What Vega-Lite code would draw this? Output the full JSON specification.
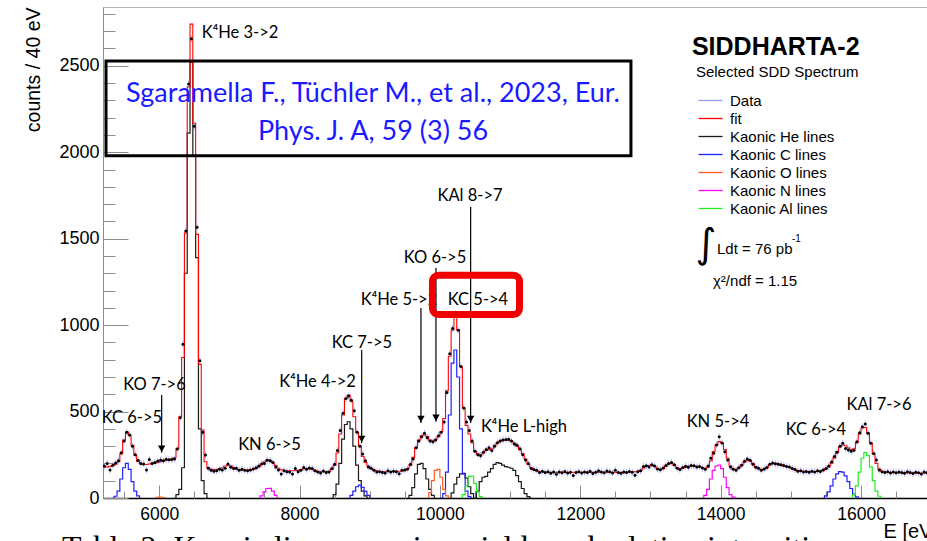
{
  "$schema": "https://vega.github.io/schema/vega-lite/v6.json",
  "width": 824,
  "height": 491,
  "autosize": {"type": "none"},
  "padding": {"left": 103, "top": 7, "right": 0, "bottom": 43},
  "background": "#ffffff",
  "config": {
    "view": {"stroke": "#b4b4b4", "strokeWidth": 1},
    "axis": {"labelFont": "Liberation Sans", "titleFont": "Liberation Sans", "labelColor": "#000000", "titleColor": "#000000", "titleFontWeight": "normal", "grid": false, "zindex": 1}
  },
  "resolve": {"axis": {"x": "independent", "y": "independent"}},
  "datasets": {
    "spectrum": [
      {"e":5220,"f":178,"d":185},{"e":5260,"f":180,"d":200},{"e":5300,"f":183,"d":162},{"e":5340,"f":188,"d":190},
      {"e":5380,"f":195,"d":202},{"e":5420,"f":210,"d":216},{"e":5460,"f":255,"d":262},{"e":5500,"f":335,"d":330},
      {"e":5540,"f":382,"d":380},{"e":5580,"f":362,"d":365},{"e":5620,"f":305,"d":300},{"e":5660,"f":248,"d":250},
      {"e":5700,"f":212,"d":218},{"e":5740,"f":198,"d":200},{"e":5780,"f":194,"d":196},{"e":5820,"f":194,"d":162},
      {"e":5860,"f":197,"d":222},{"e":5900,"f":200,"d":200},{"e":5940,"f":203,"d":206},{"e":5980,"f":206,"d":214},
      {"e":6020,"f":210,"d":220},{"e":6060,"f":214,"d":216},{"e":6100,"f":218,"d":224},{"e":6140,"f":222,"d":221},
      {"e":6180,"f":226,"d":222},{"e":6220,"f":233,"d":225},{"e":6260,"f":287,"d":283},{"e":6300,"f":470,"d":464},
      {"e":6340,"f":813,"d":890},{"e":6380,"f":1532,"d":1544},{"e":6420,"f":2378,"d":2394},{"e":6460,"f":2741,"d":2656},
      {"e":6500,"f":2167,"d":2150},{"e":6540,"f":1525,"d":1566},{"e":6580,"f":773,"d":794},{"e":6620,"f":393,"d":380},
      {"e":6660,"f":210,"d":249},{"e":6700,"f":175,"d":172},{"e":6740,"f":166,"d":160},{"e":6780,"f":164,"d":155},
      {"e":6820,"f":165,"d":158},{"e":6860,"f":168,"d":166},{"e":6900,"f":175,"d":162},{"e":6940,"f":185,"d":172},
      {"e":6980,"f":191,"d":197},{"e":7020,"f":186,"d":178},{"e":7060,"f":176,"d":170},{"e":7100,"f":168,"d":172},
      {"e":7140,"f":164,"d":160},{"e":7180,"f":162,"d":166},{"e":7220,"f":162,"d":160},{"e":7260,"f":162,"d":158},
      {"e":7300,"f":163,"d":162},{"e":7340,"f":165,"d":168},{"e":7380,"f":170,"d":175},{"e":7420,"f":180,"d":185},
      {"e":7460,"f":195,"d":197},{"e":7500,"f":210,"d":200},{"e":7540,"f":220,"d":218},{"e":7580,"f":218,"d":216},
      {"e":7620,"f":205,"d":205},{"e":7660,"f":188,"d":180},{"e":7700,"f":172,"d":162},{"e":7740,"f":163,"d":139},
      {"e":7780,"f":160,"d":158},{"e":7820,"f":158,"d":152},{"e":7860,"f":158,"d":150},{"e":7900,"f":158,"d":139},
      {"e":7940,"f":159,"d":170},{"e":7980,"f":160,"d":152},{"e":8020,"f":164,"d":160},{"e":8060,"f":168,"d":176},
      {"e":8100,"f":171,"d":166},{"e":8140,"f":170,"d":174},{"e":8180,"f":166,"d":170},{"e":8220,"f":160,"d":158},
      {"e":8260,"f":155,"d":150},{"e":8300,"f":153,"d":145},{"e":8340,"f":152,"d":156},{"e":8380,"f":152,"d":148},
      {"e":8420,"f":155,"d":150},{"e":8460,"f":165,"d":170},{"e":8500,"f":190,"d":195},{"e":8540,"f":260,"d":275},
      {"e":8580,"f":370,"d":390},{"e":8620,"f":480,"d":490},{"e":8660,"f":575,"d":575},{"e":8700,"f":596,"d":590},
      {"e":8740,"f":560,"d":565},{"e":8780,"f":470,"d":505},{"e":8820,"f":380,"d":380},{"e":8860,"f":300,"d":300},
      {"e":8900,"f":240,"d":255},{"e":8940,"f":205,"d":215},{"e":8980,"f":185,"d":180},{"e":9020,"f":170,"d":172},
      {"e":9060,"f":162,"d":160},{"e":9100,"f":157,"d":150},{"e":9140,"f":155,"d":152},{"e":9180,"f":153,"d":148},
      {"e":9220,"f":152,"d":145},{"e":9260,"f":152,"d":158},{"e":9300,"f":152,"d":150},{"e":9340,"f":153,"d":155},
      {"e":9380,"f":154,"d":152},{"e":9420,"f":155,"d":140},{"e":9460,"f":157,"d":160},{"e":9500,"f":160,"d":162},
      {"e":9540,"f":170,"d":168},{"e":9580,"f":190,"d":195},{"e":9620,"f":235,"d":225},{"e":9660,"f":290,"d":290},
      {"e":9700,"f":335,"d":330},{"e":9740,"f":360,"d":355},{"e":9780,"f":365,"d":375},{"e":9820,"f":355,"d":348},
      {"e":9860,"f":335,"d":330},{"e":9900,"f":330,"d":325},{"e":9940,"f":340,"d":335},{"e":9980,"f":355,"d":360},
      {"e":10020,"f":385,"d":380},{"e":10060,"f":460,"d":440},{"e":10100,"f":620,"d":610},{"e":10140,"f":820,"d":835},
      {"e":10180,"f":970,"d":980},{"e":10220,"f":1050,"d":1065},{"e":10260,"f":975,"d":970},{"e":10300,"f":760,"d":760},
      {"e":10340,"f":520,"d":520},{"e":10380,"f":420,"d":440},{"e":10420,"f":370,"d":390},{"e":10460,"f":320,"d":330},
      {"e":10500,"f":270,"d":270},{"e":10540,"f":255,"d":250},{"e":10580,"f":250,"d":245},{"e":10620,"f":262,"d":265},
      {"e":10660,"f":275,"d":280},{"e":10700,"f":280,"d":290},{"e":10740,"f":285,"d":275},{"e":10780,"f":305,"d":300},
      {"e":10820,"f":320,"d":320},{"e":10860,"f":330,"d":330},{"e":10900,"f":335,"d":335},{"e":10940,"f":335,"d":338},
      {"e":10980,"f":333,"d":340},{"e":11020,"f":330,"d":330},{"e":11060,"f":318,"d":312},{"e":11100,"f":300,"d":305},
      {"e":11140,"f":280,"d":285},{"e":11180,"f":255,"d":250},{"e":11220,"f":225,"d":220},{"e":11260,"f":195,"d":200},
      {"e":11300,"f":175,"d":170},{"e":11340,"f":163,"d":165},{"e":11380,"f":156,"d":160},{"e":11420,"f":152,"d":148},
      {"e":11460,"f":150,"d":155},{"e":11500,"f":149,"d":147},{"e":11540,"f":149,"d":152},{"e":11580,"f":149,"d":143},
      {"e":11620,"f":148,"d":150},{"e":11660,"f":148,"d":138},{"e":11700,"f":148,"d":151},{"e":11740,"f":148,"d":146},
      {"e":11780,"f":148,"d":153},{"e":11820,"f":148,"d":144},{"e":11860,"f":148,"d":149},{"e":11900,"f":148,"d":130},
      {"e":11940,"f":148,"d":147},{"e":11980,"f":148,"d":152},{"e":12020,"f":148,"d":145},{"e":12060,"f":148,"d":150},
      {"e":12100,"f":148,"d":148},{"e":12140,"f":148,"d":155},{"e":12180,"f":148,"d":141},{"e":12220,"f":148,"d":149},
      {"e":12260,"f":148,"d":158},{"e":12300,"f":148,"d":150},{"e":12340,"f":148,"d":146},{"e":12380,"f":148,"d":156},
      {"e":12420,"f":148,"d":152},{"e":12460,"f":148,"d":144},{"e":12500,"f":148,"d":160},{"e":12540,"f":148,"d":148},
      {"e":12580,"f":148,"d":143},{"e":12620,"f":149,"d":150},{"e":12660,"f":149,"d":147},{"e":12700,"f":150,"d":154},
      {"e":12740,"f":150,"d":149},{"e":12780,"f":152,"d":132},{"e":12820,"f":155,"d":152},{"e":12860,"f":160,"d":158},
      {"e":12900,"f":172,"d":182},{"e":12940,"f":183,"d":186},{"e":12980,"f":188,"d":180},{"e":13020,"f":190,"d":193},
      {"e":13060,"f":182,"d":185},{"e":13100,"f":170,"d":168},{"e":13140,"f":165,"d":163},{"e":13180,"f":170,"d":174},
      {"e":13220,"f":185,"d":188},{"e":13260,"f":197,"d":200},{"e":13300,"f":200,"d":205},{"e":13340,"f":190,"d":192},
      {"e":13380,"f":175,"d":172},{"e":13420,"f":168,"d":165},{"e":13460,"f":173,"d":176},{"e":13500,"f":180,"d":183},
      {"e":13540,"f":185,"d":178},{"e":13580,"f":186,"d":188},{"e":13620,"f":185,"d":187},{"e":13660,"f":183,"d":180},
      {"e":13700,"f":180,"d":182},{"e":13740,"f":176,"d":174},{"e":13780,"f":172,"d":166},{"e":13820,"f":178,"d":185},
      {"e":13860,"f":215,"d":230},{"e":13900,"f":268,"d":259},{"e":13940,"f":305,"d":307},{"e":13980,"f":326,"d":355},
      {"e":14020,"f":318,"d":318},{"e":14060,"f":280,"d":268},{"e":14100,"f":230,"d":220},{"e":14140,"f":185,"d":180},
      {"e":14180,"f":165,"d":166},{"e":14220,"f":168,"d":160},{"e":14260,"f":178,"d":175},{"e":14300,"f":192,"d":190},
      {"e":14340,"f":208,"d":212},{"e":14380,"f":218,"d":226},{"e":14420,"f":215,"d":218},{"e":14460,"f":200,"d":195},
      {"e":14500,"f":182,"d":178},{"e":14540,"f":170,"d":172},{"e":14580,"f":164,"d":160},{"e":14620,"f":166,"d":168},
      {"e":14660,"f":178,"d":176},{"e":14700,"f":192,"d":195},{"e":14740,"f":199,"d":203},{"e":14780,"f":200,"d":198},
      {"e":14820,"f":196,"d":195},{"e":14860,"f":190,"d":192},{"e":14900,"f":186,"d":188},{"e":14940,"f":184,"d":182},
      {"e":14980,"f":179,"d":180},{"e":15020,"f":171,"d":170},{"e":15060,"f":163,"d":165},{"e":15100,"f":158,"d":155},
      {"e":15140,"f":156,"d":158},{"e":15180,"f":154,"d":150},{"e":15220,"f":153,"d":154},{"e":15260,"f":152,"d":149},
      {"e":15300,"f":152,"d":155},{"e":15340,"f":152,"d":151},{"e":15380,"f":154,"d":157},{"e":15420,"f":156,"d":154},
      {"e":15460,"f":160,"d":162},{"e":15500,"f":167,"d":170},{"e":15540,"f":180,"d":185},{"e":15580,"f":202,"d":208},
      {"e":15620,"f":232,"d":240},{"e":15660,"f":268,"d":265},{"e":15700,"f":295,"d":300},{"e":15740,"f":306,"d":316},
      {"e":15780,"f":302,"d":287},{"e":15820,"f":290,"d":278},{"e":15860,"f":280,"d":270},{"e":15900,"f":285,"d":276},
      {"e":15940,"f":320,"d":325},{"e":15980,"f":370,"d":378},{"e":16020,"f":405,"d":412},{"e":16060,"f":408,"d":428},
      {"e":16100,"f":375,"d":374},{"e":16140,"f":320,"d":316},{"e":16180,"f":255,"d":258},{"e":16220,"f":200,"d":220},
      {"e":16260,"f":168,"d":162},{"e":16300,"f":155,"d":152},{"e":16340,"f":150,"d":148},{"e":16380,"f":149,"d":152},
      {"e":16420,"f":148,"d":145},{"e":16460,"f":148,"d":150},{"e":16500,"f":147,"d":146},{"e":16540,"f":147,"d":151},
      {"e":16580,"f":146,"d":148},{"e":16620,"f":146,"d":143},{"e":16660,"f":146,"d":152},{"e":16700,"f":145,"d":147},
      {"e":16740,"f":145,"d":141},{"e":16780,"f":145,"d":149},{"e":16820,"f":144,"d":146},{"e":16860,"f":144,"d":139},
      {"e":16900,"f":144,"d":150},{"e":16940,"f":144,"d":146}
    ],
    "lines": [
      {"s":"Kaonic He lines","p":"He32","e":6220,"c":0},{"s":"Kaonic He lines","p":"He32","e":6260,"c":20},
      {"s":"Kaonic He lines","p":"He32","e":6300,"c":50},{"s":"Kaonic He lines","p":"He32","e":6340,"c":175},
      {"s":"Kaonic He lines","p":"He32","e":6380,"c":1300},{"s":"Kaonic He lines","p":"He32","e":6420,"c":2110},
      {"s":"Kaonic He lines","p":"He32","e":6460,"c":2520},{"s":"Kaonic He lines","p":"He32","e":6500,"c":1980},
      {"s":"Kaonic He lines","p":"He32","e":6540,"c":1390},{"s":"Kaonic He lines","p":"He32","e":6580,"c":400},
      {"s":"Kaonic He lines","p":"He32","e":6620,"c":100},{"s":"Kaonic He lines","p":"He32","e":6660,"c":25},
      {"s":"Kaonic He lines","p":"He32","e":6700,"c":0},
      {"s":"Kaonic He lines","p":"He42","e":8460,"c":0},{"s":"Kaonic He lines","p":"He42","e":8500,"c":20},
      {"s":"Kaonic He lines","p":"He42","e":8540,"c":80},{"s":"Kaonic He lines","p":"He42","e":8580,"c":200},
      {"s":"Kaonic He lines","p":"He42","e":8620,"c":340},{"s":"Kaonic He lines","p":"He42","e":8660,"c":425},
      {"s":"Kaonic He lines","p":"He42","e":8700,"c":441},{"s":"Kaonic He lines","p":"He42","e":8740,"c":400},
      {"s":"Kaonic He lines","p":"He42","e":8780,"c":300},{"s":"Kaonic He lines","p":"He42","e":8820,"c":190},
      {"s":"Kaonic He lines","p":"He42","e":8860,"c":100},{"s":"Kaonic He lines","p":"He42","e":8900,"c":40},
      {"s":"Kaonic He lines","p":"He42","e":8940,"c":12},{"s":"Kaonic He lines","p":"He42","e":8980,"c":0},
      {"s":"Kaonic He lines","p":"He52","e":9540,"c":0},{"s":"Kaonic He lines","p":"He52","e":9580,"c":15},
      {"s":"Kaonic He lines","p":"He52","e":9620,"c":60},{"s":"Kaonic He lines","p":"He52","e":9660,"c":140},
      {"s":"Kaonic He lines","p":"He52","e":9700,"c":195},{"s":"Kaonic He lines","p":"He52","e":9740,"c":200},
      {"s":"Kaonic He lines","p":"He52","e":9780,"c":170},{"s":"Kaonic He lines","p":"He52","e":9820,"c":110},
      {"s":"Kaonic He lines","p":"He52","e":9860,"c":50},{"s":"Kaonic He lines","p":"He52","e":9900,"c":15},
      {"s":"Kaonic He lines","p":"He52","e":9940,"c":0},
      {"s":"Kaonic He lines","p":"He62","e":10140,"c":0},{"s":"Kaonic He lines","p":"He62","e":10180,"c":30},
      {"s":"Kaonic He lines","p":"He62","e":10220,"c":80},{"s":"Kaonic He lines","p":"He62","e":10260,"c":120},
      {"s":"Kaonic He lines","p":"He62","e":10300,"c":140},{"s":"Kaonic He lines","p":"He62","e":10340,"c":143},
      {"s":"Kaonic He lines","p":"He62","e":10380,"c":115},{"s":"Kaonic He lines","p":"He62","e":10420,"c":65},
      {"s":"Kaonic He lines","p":"He62","e":10460,"c":25},{"s":"Kaonic He lines","p":"He62","e":10500,"c":0},
      {"s":"Kaonic He lines","p":"HeL","e":10500,"c":0},{"s":"Kaonic He lines","p":"HeL","e":10540,"c":40},
      {"s":"Kaonic He lines","p":"HeL","e":10580,"c":95},{"s":"Kaonic He lines","p":"HeL","e":10620,"c":120},
      {"s":"Kaonic He lines","p":"HeL","e":10660,"c":125},{"s":"Kaonic He lines","p":"HeL","e":10700,"c":150},
      {"s":"Kaonic He lines","p":"HeL","e":10740,"c":170},{"s":"Kaonic He lines","p":"HeL","e":10780,"c":195},
      {"s":"Kaonic He lines","p":"HeL","e":10820,"c":205},{"s":"Kaonic He lines","p":"HeL","e":10860,"c":200},
      {"s":"Kaonic He lines","p":"HeL","e":10900,"c":190},{"s":"Kaonic He lines","p":"HeL","e":10940,"c":182},
      {"s":"Kaonic He lines","p":"HeL","e":10980,"c":178},{"s":"Kaonic He lines","p":"HeL","e":11020,"c":172},
      {"s":"Kaonic He lines","p":"HeL","e":11060,"c":160},{"s":"Kaonic He lines","p":"HeL","e":11100,"c":130},
      {"s":"Kaonic He lines","p":"HeL","e":11140,"c":95},{"s":"Kaonic He lines","p":"HeL","e":11180,"c":55},
      {"s":"Kaonic He lines","p":"HeL","e":11220,"c":25},{"s":"Kaonic He lines","p":"HeL","e":11260,"c":8},
      {"s":"Kaonic He lines","p":"HeL","e":11300,"c":0},
      {"s":"Kaonic C lines","p":"C65","e":5340,"c":0},{"s":"Kaonic C lines","p":"C65","e":5380,"c":10},
      {"s":"Kaonic C lines","p":"C65","e":5420,"c":40},{"s":"Kaonic C lines","p":"C65","e":5460,"c":110},
      {"s":"Kaonic C lines","p":"C65","e":5500,"c":175},{"s":"Kaonic C lines","p":"C65","e":5540,"c":200},
      {"s":"Kaonic C lines","p":"C65","e":5580,"c":165},{"s":"Kaonic C lines","p":"C65","e":5620,"c":95},
      {"s":"Kaonic C lines","p":"C65","e":5660,"c":40},{"s":"Kaonic C lines","p":"C65","e":5700,"c":12},
      {"s":"Kaonic C lines","p":"C65","e":5740,"c":0},
      {"s":"Kaonic C lines","p":"C75","e":8700,"c":0},{"s":"Kaonic C lines","p":"C75","e":8740,"c":15},
      {"s":"Kaonic C lines","p":"C75","e":8780,"c":40},{"s":"Kaonic C lines","p":"C75","e":8820,"c":65},
      {"s":"Kaonic C lines","p":"C75","e":8860,"c":75},{"s":"Kaonic C lines","p":"C75","e":8900,"c":62},
      {"s":"Kaonic C lines","p":"C75","e":8940,"c":38},{"s":"Kaonic C lines","p":"C75","e":8980,"c":15},
      {"s":"Kaonic C lines","p":"C75","e":9020,"c":0},
      {"s":"Kaonic C lines","p":"C54","e":10020,"c":0},{"s":"Kaonic C lines","p":"C54","e":10060,"c":25},
      {"s":"Kaonic C lines","p":"C54","e":10100,"c":150},{"s":"Kaonic C lines","p":"C54","e":10140,"c":480},
      {"s":"Kaonic C lines","p":"C54","e":10180,"c":780},{"s":"Kaonic C lines","p":"C54","e":10220,"c":856},
      {"s":"Kaonic C lines","p":"C54","e":10260,"c":700},{"s":"Kaonic C lines","p":"C54","e":10300,"c":400},
      {"s":"Kaonic C lines","p":"C54","e":10340,"c":140},{"s":"Kaonic C lines","p":"C54","e":10380,"c":40},
      {"s":"Kaonic C lines","p":"C54","e":10420,"c":8},{"s":"Kaonic C lines","p":"C54","e":10460,"c":0},
      {"s":"Kaonic C lines","p":"C64","e":15460,"c":0},{"s":"Kaonic C lines","p":"C64","e":15500,"c":12},
      {"s":"Kaonic C lines","p":"C64","e":15540,"c":35},{"s":"Kaonic C lines","p":"C64","e":15580,"c":70},
      {"s":"Kaonic C lines","p":"C64","e":15620,"c":110},{"s":"Kaonic C lines","p":"C64","e":15660,"c":140},
      {"s":"Kaonic C lines","p":"C64","e":15700,"c":152},{"s":"Kaonic C lines","p":"C64","e":15740,"c":150},
      {"s":"Kaonic C lines","p":"C64","e":15780,"c":128},{"s":"Kaonic C lines","p":"C64","e":15820,"c":95},
      {"s":"Kaonic C lines","p":"C64","e":15860,"c":55},{"s":"Kaonic C lines","p":"C64","e":15900,"c":22},
      {"s":"Kaonic C lines","p":"C64","e":15940,"c":6},{"s":"Kaonic C lines","p":"C64","e":15980,"c":0},
      {"s":"Kaonic O lines","p":"O76","e":5940,"c":0},{"s":"Kaonic O lines","p":"O76","e":5980,"c":4},
      {"s":"Kaonic O lines","p":"O76","e":6020,"c":5},{"s":"Kaonic O lines","p":"O76","e":6060,"c":3},
      {"s":"Kaonic O lines","p":"O76","e":6100,"c":0},
      {"s":"Kaonic O lines","p":"O65","e":9820,"c":0},{"s":"Kaonic O lines","p":"O65","e":9860,"c":30},
      {"s":"Kaonic O lines","p":"O65","e":9900,"c":100},{"s":"Kaonic O lines","p":"O65","e":9940,"c":160},
      {"s":"Kaonic O lines","p":"O65","e":9980,"c":166},{"s":"Kaonic O lines","p":"O65","e":10020,"c":120},
      {"s":"Kaonic O lines","p":"O65","e":10060,"c":50},{"s":"Kaonic O lines","p":"O65","e":10100,"c":12},
      {"s":"Kaonic O lines","p":"O65","e":10140,"c":0},
      {"s":"Kaonic N lines","p":"N65","e":7420,"c":0},{"s":"Kaonic N lines","p":"N65","e":7460,"c":12},
      {"s":"Kaonic N lines","p":"N65","e":7500,"c":35},{"s":"Kaonic N lines","p":"N65","e":7540,"c":55},
      {"s":"Kaonic N lines","p":"N65","e":7580,"c":56},{"s":"Kaonic N lines","p":"N65","e":7620,"c":40},
      {"s":"Kaonic N lines","p":"N65","e":7660,"c":15},{"s":"Kaonic N lines","p":"N65","e":7700,"c":0},
      {"s":"Kaonic N lines","p":"N54","e":13740,"c":0},{"s":"Kaonic N lines","p":"N54","e":13780,"c":15},
      {"s":"Kaonic N lines","p":"N54","e":13820,"c":50},{"s":"Kaonic N lines","p":"N54","e":13860,"c":110},
      {"s":"Kaonic N lines","p":"N54","e":13900,"c":160},{"s":"Kaonic N lines","p":"N54","e":13940,"c":185},
      {"s":"Kaonic N lines","p":"N54","e":13980,"c":191},{"s":"Kaonic N lines","p":"N54","e":14020,"c":170},
      {"s":"Kaonic N lines","p":"N54","e":14060,"c":120},{"s":"Kaonic N lines","p":"N54","e":14100,"c":60},
      {"s":"Kaonic N lines","p":"N54","e":14140,"c":20},{"s":"Kaonic N lines","p":"N54","e":14180,"c":5},
      {"s":"Kaonic N lines","p":"N54","e":14220,"c":0},
      {"s":"Kaonic Al lines","p":"Al87","e":10300,"c":0},{"s":"Kaonic Al lines","p":"Al87","e":10340,"c":20},
      {"s":"Kaonic Al lines","p":"Al87","e":10380,"c":70},{"s":"Kaonic Al lines","p":"Al87","e":10420,"c":125},
      {"s":"Kaonic Al lines","p":"Al87","e":10460,"c":127},{"s":"Kaonic Al lines","p":"Al87","e":10500,"c":85},
      {"s":"Kaonic Al lines","p":"Al87","e":10540,"c":35},{"s":"Kaonic Al lines","p":"Al87","e":10580,"c":8},
      {"s":"Kaonic Al lines","p":"Al87","e":10620,"c":0},
      {"s":"Kaonic Al lines","p":"Al76","e":15860,"c":0},{"s":"Kaonic Al lines","p":"Al76","e":15900,"c":20},
      {"s":"Kaonic Al lines","p":"Al76","e":15940,"c":70},{"s":"Kaonic Al lines","p":"Al76","e":15980,"c":150},
      {"s":"Kaonic Al lines","p":"Al76","e":16020,"c":230},{"s":"Kaonic Al lines","p":"Al76","e":16060,"c":262},
      {"s":"Kaonic Al lines","p":"Al76","e":16100,"c":245},{"s":"Kaonic Al lines","p":"Al76","e":16140,"c":180},
      {"s":"Kaonic Al lines","p":"Al76","e":16180,"c":100},{"s":"Kaonic Al lines","p":"Al76","e":16220,"c":40},
      {"s":"Kaonic Al lines","p":"Al76","e":16260,"c":10},{"s":"Kaonic Al lines","p":"Al76","e":16300,"c":0}
    ],
    "peakLabels": [
      {"t":"K⁴He 3->2","e":7152,"c":2689},
      {"t":"KC 6->5","e":5613,"c":463},
      {"t":"KO 7->6","e":5934,"c":654},
      {"t":"KN 6->5","e":7572,"c":307},
      {"t":"K⁴He 4->2","e":8256,"c":671},
      {"t":"KC 7->5","e":8890,"c":896},
      {"t":"K⁴He 5->2","e":9417,"c":1145},
      {"t":"KO 6->5","e":9930,"c":1388},
      {"t":"KAl 8->7","e":10429,"c":1747},
      {"t":"KC 5->4","e":10543,"c":1145},
      {"t":"K⁴He L-high","e":11198,"c":411},
      {"t":"KN 5->4","e":13962,"c":440},
      {"t":"KC 6->4","e":15358,"c":393},
      {"t":"KAl 7->6","e":16256,"c":538}
    ],
    "arrows": [
      {"line":"KO 7->6","e":6036,"top":596,"tip":262},
      {"line":"KC 7->5","e":8886,"top":856,"tip":318},
      {"line":"K4He 5->2","e":9730,"top":1099,"tip":434},
      {"line":"KO 6->5","e":9944,"top":1330,"tip":441},
      {"line":"KAl 8->7","e":10438,"top":1683,"tip":434}
    ]
  },
  "layer": [
    {
      "data": {"name": "lines"},
      "mark": {"type": "line", "interpolate": "step", "strokeWidth": 1.2, "clip": true},
      "encoding": {
        "x": {
          "field": "e", "type": "quantitative",
          "scale": {"domain": [5200, 16940], "nice": false, "zero": false},
          "axis": {
            "orient": "bottom",
            "values": [6000, 8000, 10000, 12000, 14000, 16000],
            "format": "d",
            "labelFontSize": 17.5,
            "labelPadding": 20,
            "labelFlush": false,
            "labelOverlap": false,
            "tickSize": -13,
            "tickColor": "#8c8c8c",
            "tickWidth": 1,
            "domainColor": "#000000",
            "domainWidth": 1.3,
            "title": "E [eV]",
            "titleFontSize": 20,
            "titleAlign": "left",
            "titleBaseline": "middle",
            "titleAnchor": "start",
            "titleX": 780,
            "titleY": 33
          }
        },
        "y": {
          "field": "c", "type": "quantitative",
          "scale": {"domain": [0, 2840], "nice": false},
          "axis": {
            "orient": "left",
            "values": [0, 500, 1000, 1500, 2000, 2500],
            "format": "d",
            "labelFontSize": 18,
            "labelPadding": 29,
            "labelFlush": false,
            "labelOverlap": false,
            "tickSize": -25,
            "tickColor": "#8c8c8c",
            "domainColor": "#8c8c8c",
            "title": "counts / 40 eV",
            "titleFontSize": 19.5,
            "titleAnchor": "end",
            "titlePadding": 15
          }
        },
        "detail": {"field": "p"},
        "color": {
          "field": "s", "type": "nominal",
          "scale": {
            "domain": ["Data", "fit", "Kaonic He lines", "Kaonic C lines", "Kaonic O lines", "Kaonic N lines", "Kaonic Al lines"],
            "range": ["#9a9aff", "#ff0000", "#1a1a1a", "#2020ff", "#ff5a1f", "#ff00ff", "#22ee22"]
          },
          "legend": {
            "orient": "none",
            "legendX": 600,
            "legendY": 86,
            "title": null,
            "direction": "vertical",
            "symbolType": "M-2,0H2",
            "symbolSize": 144,
            "symbolStrokeWidth": 1.3,
            "labelFont": "Liberation Sans",
            "labelFontSize": 15,
            "labelColor": "#000000",
            "labelOffset": 12,
            "rowPadding": 2,
            "padding": 0,
            "encode": {"symbols": {"update": {"stroke": {"scale": "color", "field": "value"}, "fill": {"value": "transparent"}}}}
          }
        }
      }
    },
    {
      "data": {"name": "spectrum"},
      "mark": {"type": "line", "interpolate": "step", "strokeWidth": 1.1, "clip": true},
      "encoding": {
        "x": {
          "field": "e", "type": "quantitative",
          "scale": {"domain": [5200, 16940], "nice": false, "zero": false},
          "axis": {
            "orient": "bottom",
            "values": [5500,6500,7000,7500,8500,9000,9500,10500,11000,11500,12500,13000,13500,14500,15000,15500,16500],
            "labels": false,
            "domain": false,
            "tickSize": -7,
            "tickColor": "#8c8c8c",
            "tickWidth": 1,
            "title": null
          }
        },
        "y": {
          "field": "f", "type": "quantitative",
          "scale": {"domain": [0, 2840], "nice": false},
          "axis": {
            "orient": "left",
            "values": [100,200,300,400,600,700,800,900,1100,1200,1300,1400,1600,1700,1800,1900,2100,2200,2300,2400,2600,2700,2800],
            "labels": false,
            "domain": false,
            "tickSize": -12,
            "tickColor": "#8c8c8c",
            "title": null
          }
        },
        "color": {"datum": "fit", "type": "nominal", "legend": null}
      }
    },
    {
      "data": {"name": "spectrum"},
      "mark": {"type": "tick", "orient": "vertical", "size": 7, "thickness": 1, "clip": true},
      "encoding": {
        "x": {"field": "e", "type": "quantitative", "scale": {"domain": [5200, 16940], "nice": false, "zero": false}, "axis": null},
        "y": {"field": "d", "type": "quantitative", "scale": {"domain": [0, 2840], "nice": false}, "axis": null},
        "color": {"datum": "Data", "type": "nominal", "legend": null}
      }
    },
    {
      "data": {"name": "spectrum"},
      "mark": {"type": "point", "filled": true, "size": 9, "color": "#000000", "opacity": 1, "clip": true},
      "encoding": {
        "x": {"field": "e", "type": "quantitative", "scale": {"domain": [5200, 16940], "nice": false, "zero": false}, "axis": null},
        "y": {"field": "d", "type": "quantitative", "scale": {"domain": [0, 2840], "nice": false}, "axis": null}
      }
    },
    {
      "data": {"name": "arrows"},
      "mark": {"type": "rule", "color": "#000000", "strokeWidth": 1.2},
      "encoding": {
        "x": {"field": "e", "type": "quantitative", "scale": {"domain": [5200, 16940], "nice": false, "zero": false}, "axis": null},
        "y": {"field": "top", "type": "quantitative", "scale": {"domain": [0, 2840], "nice": false}, "axis": null},
        "y2": {"field": "tip"}
      }
    },
    {
      "data": {"name": "arrows"},
      "mark": {"type": "point", "shape": "triangle-down", "filled": true, "size": 55, "color": "#000000", "opacity": 1, "yOffset": -4},
      "encoding": {
        "x": {"field": "e", "type": "quantitative", "scale": {"domain": [5200, 16940], "nice": false, "zero": false}, "axis": null},
        "y": {"field": "tip", "type": "quantitative", "scale": {"domain": [0, 2840], "nice": false}, "axis": null}
      }
    },
    {
      "data": {"name": "peakLabels"},
      "mark": {"type": "text", "font": "Lato", "fontSize": 16.5, "align": "center", "baseline": "middle", "color": "#000000"},
      "encoding": {
        "x": {"field": "e", "type": "quantitative", "scale": {"domain": [5200, 16940], "nice": false, "zero": false}, "axis": null},
        "y": {"field": "c", "type": "quantitative", "scale": {"domain": [0, 2840], "nice": false}, "axis": null},
        "text": {"field": "t"}
      }
    },
    {
      "data": {"values": [{"ref": "Sgaramella et al. 2023", "e1": 5243, "e2": 12722, "c1": 1980, "c2": 2527}]},
      "mark": {"type": "rect", "fill": null, "fillOpacity": 0, "stroke": "#000000", "strokeWidth": 3},
      "encoding": {
        "x": {"field": "e1", "type": "quantitative", "scale": {"domain": [5200, 16940], "nice": false, "zero": false}, "axis": null},
        "x2": {"field": "e2"},
        "y": {"field": "c1", "type": "quantitative", "scale": {"domain": [0, 2840], "nice": false}, "axis": null},
        "y2": {"field": "c2"}
      }
    },
    {
      "data": {"values": [
        {"t": "Sgaramella F., Tüchler M., et al., 2023, Eur.", "e": 9047, "c": 2293},
        {"t": "Phys. J. A, 59 (3) 56", "e": 9047, "c": 2071}
      ]},
      "mark": {"type": "text", "font": "Lato", "fontSize": 27, "align": "center", "baseline": "alphabetic", "color": "#1a1aff"},
      "encoding": {
        "x": {"field": "e", "type": "quantitative", "scale": {"domain": [5200, 16940], "nice": false, "zero": false}, "axis": null},
        "y": {"field": "c", "type": "quantitative", "scale": {"domain": [0, 2840], "nice": false}, "axis": null},
        "text": {"field": "t"}
      }
    },
    {
      "data": {"values": [{"line": "KC 5->4", "e1": 9894, "e2": 11134, "c1": 1061, "c2": 1289}]},
      "mark": {"type": "rect", "fill": null, "fillOpacity": 0, "stroke": "#f00000", "strokeWidth": 7, "cornerRadius": 6},
      "encoding": {
        "x": {"field": "e1", "type": "quantitative", "scale": {"domain": [5200, 16940], "nice": false, "zero": false}, "axis": null},
        "x2": {"field": "e2"},
        "y": {"field": "c1", "type": "quantitative", "scale": {"domain": [0, 2840], "nice": false}, "axis": null},
        "y2": {"field": "c2"}
      }
    },
    {
      "data": {"values": [{"t": "SIDDHARTA-2", "e": 13591, "c": 2610}]},
      "mark": {"type": "text", "font": "Liberation Sans", "fontSize": 25, "fontWeight": "bold", "align": "left", "baseline": "middle", "color": "#000000"},
      "encoding": {
        "x": {"field": "e", "type": "quantitative", "scale": {"domain": [5200, 16940], "nice": false, "zero": false}, "axis": null},
        "y": {"field": "c", "type": "quantitative", "scale": {"domain": [0, 2840], "nice": false}, "axis": null},
        "text": {"field": "t"}
      }
    },
    {
      "data": {"values": [
        {"t": "Selected SDD Spectrum", "e": 13648, "c": 2466},
        {"t": "Ldt = 76 pb", "e": 13948, "c": 1440},
        {"t": "χ²/ndf = 1.15", "e": 13891, "c": 1258}
      ]},
      "mark": {"type": "text", "font": "Liberation Sans", "fontSize": 15, "align": "left", "baseline": "middle", "color": "#000000"},
      "encoding": {
        "x": {"field": "e", "type": "quantitative", "scale": {"domain": [5200, 16940], "nice": false, "zero": false}, "axis": null},
        "y": {"field": "c", "type": "quantitative", "scale": {"domain": [0, 2840], "nice": false}, "axis": null},
        "text": {"field": "t"}
      }
    },
    {
      "data": {"values": [{"t": "-1", "e": 15016, "c": 1498}]},
      "mark": {"type": "text", "font": "Liberation Sans", "fontSize": 10, "align": "left", "baseline": "middle", "color": "#000000"},
      "encoding": {
        "x": {"field": "e", "type": "quantitative", "scale": {"domain": [5200, 16940], "nice": false, "zero": false}, "axis": null},
        "y": {"field": "c", "type": "quantitative", "scale": {"domain": [0, 2840], "nice": false}, "axis": null},
        "text": {"field": "t"}
      }
    },
    {
      "data": {"values": [{"t": "∫", "e": 13791, "c": 1463}]},
      "mark": {"type": "text", "font": "DejaVu Sans", "fontSize": 40, "align": "center", "baseline": "middle", "color": "#000000"},
      "encoding": {
        "x": {"field": "e", "type": "quantitative", "scale": {"domain": [5200, 16940], "nice": false, "zero": false}, "axis": null},
        "y": {"field": "c", "type": "quantitative", "scale": {"domain": [0, 2840], "nice": false}, "axis": null},
        "text": {"field": "t"}
      }
    },
    {
      "data": {"values": [{"t": "Table 2: Kaonic lines energies, yields and relative intensities", "e": 4616, "c": -345}]},
      "mark": {"type": "text", "font": "Liberation Serif", "fontSize": 32, "align": "left", "baseline": "alphabetic", "color": "#000000", "clip": false},
      "encoding": {
        "x": {"field": "e", "type": "quantitative", "scale": {"domain": [5200, 16940], "nice": false, "zero": false}, "axis": null},
        "y": {"field": "c", "type": "quantitative", "scale": {"domain": [0, 2840], "nice": false}, "axis": null},
        "text": {"field": "t"}
      }
    }
  ]
}
